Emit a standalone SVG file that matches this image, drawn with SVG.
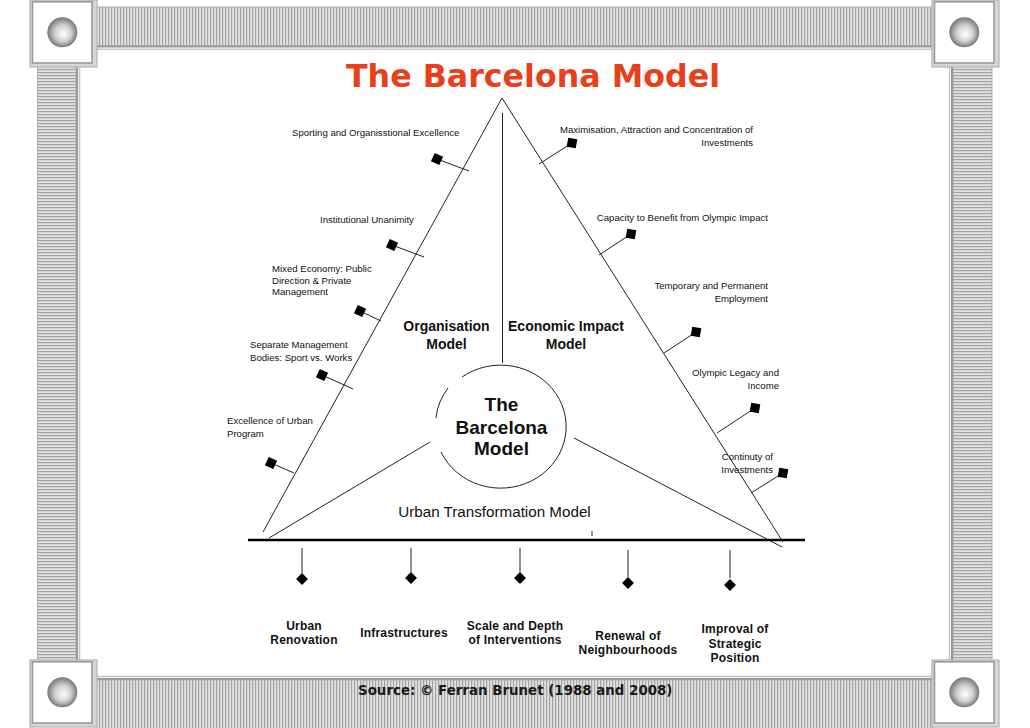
<svg xmlns="http://www.w3.org/2000/svg" xmlns:xlink="http://www.w3.org/1999/xlink" width="1030" height="728" viewBox="0 0 1030 728">
<style>
.lbl{font-family:"Liberation Sans",Arial,sans-serif;font-size:9.6px;fill:#111}
.end{text-anchor:end}
.mid{font-family:"Liberation Sans",Arial,sans-serif;font-weight:bold;font-size:14px;fill:#111;text-anchor:middle}
.core{font-family:"Liberation Sans",Arial,sans-serif;font-weight:bold;font-size:19px;fill:#111;text-anchor:middle}
.bot{font-family:"Liberation Sans",Arial,sans-serif;font-weight:bold;font-size:12px;fill:#111;text-anchor:middle;letter-spacing:0.2px}
.ln{stroke:#222;stroke-width:1;fill:none}
.mk{fill:#000}
</style>
<defs>
<pattern id="pv" width="3" height="4" patternUnits="userSpaceOnUse"><rect width="3" height="4" fill="#e2e2e2"/><rect width="1.2" height="4" fill="#a2a2a2"/></pattern>
<pattern id="ph" width="4" height="3" patternUnits="userSpaceOnUse"><rect width="4" height="3" fill="#e2e2e2"/><rect width="4" height="1.2" fill="#a2a2a2"/></pattern>
<radialGradient id="sph" cx="0.5" cy="0.5" r="0.5" fx="0.55" fy="0.58"><stop offset="0" stop-color="#ffffff"/><stop offset="0.55" stop-color="#cfcfcf"/><stop offset="1" stop-color="#777777"/></radialGradient>
<g id="corner"><rect x="0" y="0" width="67" height="67" fill="#d6d6d6" stroke="#b4b4b4" stroke-width="1.2"/><rect x="2.5" y="1.8" width="59.5" height="61.2" fill="#fff" stroke="#9a9a9a" stroke-width="1.6"/><circle cx="32.3" cy="32.3" r="15" fill="url(#sph)"/></g>
<rect id="sq" x="-4.6" y="-4.6" width="9.2" height="9.2"/>
<rect id="dm" x="-4.2" y="-4.2" width="8.4" height="8.4" transform="rotate(45)"/>
</defs>
<rect width="1030" height="728" fill="#fff"/>
<g id="frame">
<rect x="96" y="7" width="837" height="38.5" fill="url(#pv)" stroke="#b0b0b0" stroke-width="1"/>
<line x1="96" y1="46.5" x2="933" y2="46.5" stroke="#999" stroke-width="2"/>
<line x1="96" y1="49.3" x2="933" y2="49.3" stroke="#c4c4c4" stroke-width="1.5"/>
<rect x="37.5" y="66" width="38.5" height="595" fill="url(#ph)" stroke="#b0b0b0" stroke-width="1"/>
<line x1="77" y1="66" x2="77" y2="661" stroke="#999" stroke-width="2"/>
<line x1="79.5" y1="66" x2="79.5" y2="661" stroke="#c4c4c4" stroke-width="1.5"/>
<rect x="953" y="66" width="39" height="595" fill="url(#ph)" stroke="#b0b0b0" stroke-width="1"/>
<line x1="952" y1="66" x2="952" y2="661" stroke="#999" stroke-width="2"/>
<line x1="949.6" y1="66" x2="949.6" y2="661" stroke="#c4c4c4" stroke-width="1.5"/>
<rect x="96" y="680" width="837" height="50" fill="url(#pv)" stroke="#b0b0b0" stroke-width="1"/>
<line x1="96" y1="679" x2="933" y2="679" stroke="#999" stroke-width="2"/>
<line x1="96" y1="676.6" x2="933" y2="676.6" stroke="#c4c4c4" stroke-width="1.5"/>
<use xlink:href="#corner" x="30" y="0"/>
<use xlink:href="#corner" x="932" y="0"/>
<use xlink:href="#corner" x="30" y="660"/>
<use xlink:href="#corner" x="932" y="660"/>
</g>
<text id="title" x="533" y="87" font-family="DejaVu Sans,Verdana,sans-serif" font-weight="bold" font-size="31.7" fill="#e8401a" text-anchor="middle">The Barcelona Model</text>
<text id="source" x="358" y="695" font-family="DejaVu Sans,Verdana,sans-serif" font-weight="bold" font-size="13.4" fill="#1a1a1a">Source: © Ferran Brunet (1988 and 2008)</text>
<g id="connectors">
<polyline class="ln" points="263,532 502,98 783,542"/>
<line class="ln" x1="502.5" y1="113" x2="502.5" y2="363"/>
<line class="ln" x1="430" y1="442" x2="269" y2="538"/>
<line class="ln" x1="574" y1="438" x2="782" y2="547"/>
<line x1="248" y1="540" x2="805" y2="540" stroke="#000" stroke-width="2.6"/>
<line class="ln" x1="592" y1="531" x2="592" y2="536"/>
<line class="ln" x1="437" y1="159" x2="469" y2="171"/>
<line class="ln" x1="392" y1="245" x2="424" y2="257"/>
<line class="ln" x1="360" y1="311" x2="381" y2="321"/>
<line class="ln" x1="322" y1="375" x2="353" y2="389"/>
<line class="ln" x1="271" y1="463" x2="294" y2="473"/>
<line class="ln" x1="572" y1="143" x2="539" y2="164"/>
<line class="ln" x1="631" y1="234" x2="599" y2="255"/>
<line class="ln" x1="696" y1="332" x2="664" y2="353"/>
<line class="ln" x1="755" y1="408" x2="717" y2="433"/>
<line class="ln" x1="783" y1="473" x2="751" y2="493"/>
<line class="ln" x1="302" y1="548" x2="302" y2="573"/>
<line class="ln" x1="411" y1="548" x2="411" y2="572"/>
<line class="ln" x1="520" y1="548" x2="520" y2="572"/>
<line class="ln" x1="628" y1="550" x2="628" y2="577"/>
<line class="ln" x1="730" y1="550" x2="730" y2="578"/>
</g>
<g id="core">
<path class="ln" d="M462,377 A65.5 61.5 0 1 1 441,452"/>
<path class="ln" d="M448,388 A65.5 61.5 0 0 0 436,418"/>
<text class="core" x="501.5" y="411">The</text>
<text class="core" x="501.5" y="434">Barcelona</text>
<text class="core" x="501.5" y="455">Model</text>
</g>
<g id="organisation-model"><text class="mid" x="446.5" y="331">Organisation</text><text class="mid" x="446.5" y="348.5">Model</text></g>
<g id="economic-impact-model"><text class="mid" x="566" y="330.5">Economic Impact</text><text class="mid" x="566" y="348.5">Model</text></g>
<g id="urban-transformation-model"><text x="494.5" y="517" font-family="Liberation Sans,Arial,sans-serif" font-size="15.2" fill="#111" text-anchor="middle">Urban Transformation Model</text></g>
<g id="sporting"><use xlink:href="#sq" class="mk" transform="translate(437,159) rotate(25)"/><text class="lbl" x="292" y="136">Sporting and Organisstional Excellence</text></g>
<g id="unanimity"><use xlink:href="#sq" class="mk" transform="translate(392,245) rotate(25)"/><text class="lbl" x="320" y="223">Institutional Unanimity</text></g>
<g id="mixed-economy"><use xlink:href="#sq" class="mk" transform="translate(360,311) rotate(25)"/><text class="lbl" x="272" y="272">Mixed Economy: Public</text><text class="lbl" x="272" y="283.5">Direction &amp; Private</text><text class="lbl" x="272" y="295">Management</text></g>
<g id="separate-bodies"><use xlink:href="#sq" class="mk" transform="translate(322,375) rotate(25)"/><text class="lbl" x="250" y="347.5">Separate Management</text><text class="lbl" x="250" y="360.5">Bodies: Sport vs. Works</text></g>
<g id="urban-program"><use xlink:href="#sq" class="mk" transform="translate(271,463) rotate(25)"/><text class="lbl" x="227" y="424">Excellence of Urban</text><text class="lbl" x="227" y="437">Program</text></g>
<g id="investments"><use xlink:href="#sq" class="mk" transform="translate(572,143) rotate(10)"/><text class="lbl end" x="753" y="133">Maximisation, Attraction and Concentration of</text><text class="lbl end" x="753" y="145.5">Investments</text></g>
<g id="capacity"><use xlink:href="#sq" class="mk" transform="translate(631,234) rotate(10)"/><text class="lbl end" x="768" y="220.5">Capacity to Benefit from Olympic Impact</text></g>
<g id="employment"><use xlink:href="#sq" class="mk" transform="translate(696,332) rotate(10)"/><text class="lbl end" x="768" y="289">Temporary and Permanent</text><text class="lbl end" x="768" y="301.5">Employment</text></g>
<g id="legacy"><use xlink:href="#sq" class="mk" transform="translate(755,408) rotate(10)"/><text class="lbl end" x="779" y="376">Olympic Legacy and</text><text class="lbl end" x="779" y="389">Income</text></g>
<g id="continuity"><use xlink:href="#sq" class="mk" transform="translate(783,473) rotate(10)"/><text class="lbl end" x="773" y="460">Continuty of</text><text class="lbl end" x="773" y="473">Investments</text></g>
<g id="urban-renovation"><use xlink:href="#dm" class="mk" transform="translate(302,579)"/><text class="bot" x="304" y="630">Urban</text><text class="bot" x="304" y="644">Renovation</text></g>
<g id="infrastructures"><use xlink:href="#dm" class="mk" transform="translate(411,578)"/><text class="bot" x="404" y="637">Infrastructures</text></g>
<g id="scale-depth"><use xlink:href="#dm" class="mk" transform="translate(520,578)"/><text class="bot" x="515" y="630">Scale and Depth</text><text class="bot" x="515" y="644">of Interventions</text></g>
<g id="neighbourhoods"><use xlink:href="#dm" class="mk" transform="translate(628,583)"/><text class="bot" x="628" y="640">Renewal of</text><text class="bot" x="628" y="654">Neighbourhoods</text></g>
<g id="strategic-position"><use xlink:href="#dm" class="mk" transform="translate(730,585)"/><text class="bot" x="735" y="633">Improval of</text><text class="bot" x="735" y="647.5">Strategic</text><text class="bot" x="735" y="661.5">Position</text></g>
</svg>
